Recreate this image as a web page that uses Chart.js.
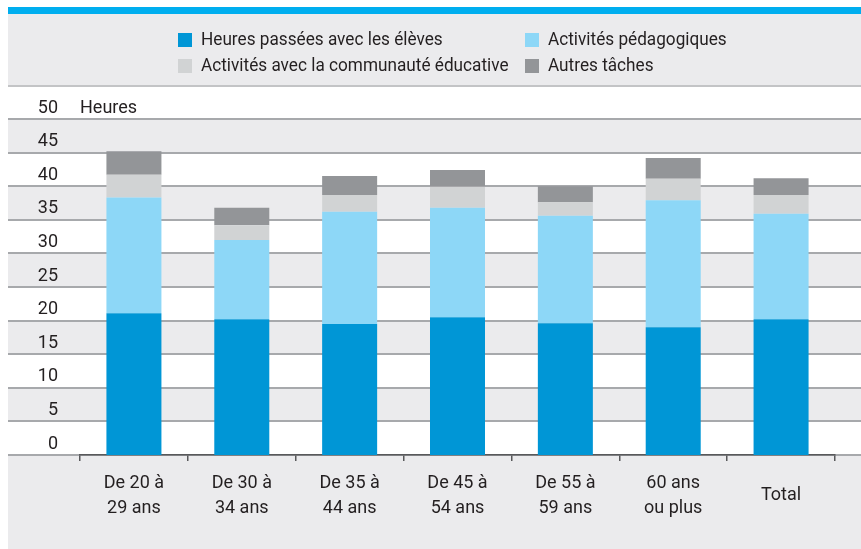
<!DOCTYPE html>
<html>
<head>
<meta charset="utf-8">
<script src="https://cdn.jsdelivr.net/npm/chart.js@4.4.1/dist/chart.umd.min.js"></script>
<style>
  html, body { margin: 0; padding: 0; background: #ffffff; }
  #wrap { width: 861px; height: 549px; position: relative; }
</style>
</head>
<body>
<div id="wrap"><canvas id="c" width="861" height="549"></canvas></div>
<script>
const categories = [
  ["De 20 à", "29 ans"],
  ["De 30 à", "34 ans"],
  ["De 35 à", "44 ans"],
  ["De 45 à", "54 ans"],
  ["De 55 à", "59 ans"],
  ["60 ans", "ou plus"],
  "Total"
];
const heuresEleves      = [21.1, 20.2, 19.5, 20.5, 19.6, 19.0, 20.2];
const activitesPedago   = [17.2, 11.8, 16.7, 16.3, 16.0, 18.9, 15.7];
const activitesCommun   = [3.4, 2.2, 2.5, 3.1, 2.0, 3.2, 2.8];
const autresTaches      = [3.5, 2.6, 2.8, 2.5, 2.4, 3.1, 2.5];
const seriesLabels = [
  "Heures passées avec les élèves",
  "Activités pédagogiques",
  "Activités avec la communauté éducative",
  "Autres tâches"
];
const yUnit = "Heures";
const yTicks = [0, 5, 10, 15, 20, 25, 30, 35, 40, 45, 50];

const FONT = "Roboto, 'Liberation Sans', sans-serif";
const TXT = "#231F20";
const colors = ["#0096D6", "#8DD7F7", "#D1D3D4", "#939598"];

const bgPlugin = {
  id: "bg",
  beforeDraw(chart) {
    const ctx = chart.ctx;
    const W = chart.width, H = chart.height;
    const y = chart.scales.y;
    const L = 8, R = W;
    ctx.save();
    ctx.fillStyle = "#ffffff";
    ctx.fillRect(0, 0, W, H);
    ctx.fillStyle = "#00AEEF";
    ctx.fillRect(L, 7, R - L, 7);
    ctx.fillStyle = "#EBEBED";
    ctx.fillRect(L, 14, R - L, 72);
    const y0 = y.getPixelForValue(0);
    ctx.fillRect(L, y0, R - L, H - y0);
    for (let i = 0; i < yTicks.length - 1; i++) {
      if ((i % 2) === 1) {
        const a = y.getPixelForValue(yTicks[i + 1]), b = y.getPixelForValue(yTicks[i]);
        ctx.fillRect(L, a, R - L, b - a);
      }
    }
    ctx.strokeStyle = "#A7A9AC";
    ctx.lineWidth = 2;
    yTicks.forEach(v => {
      const p = Math.round(y.getPixelForValue(v));
      ctx.beginPath();
      ctx.moveTo(L, p);
      ctx.lineTo(R, p);
      ctx.stroke();
    });
    ctx.strokeStyle = "#C3C4C6";
    ctx.beginPath();
    ctx.moveTo(L, 86);
    ctx.lineTo(R, 86);
    ctx.stroke();
    ctx.restore();
  },
  afterDraw(chart) {
    const ctx = chart.ctx;
    const y = chart.scales.y;
    ctx.save();
    ctx.font = "18px " + FONT;
    ctx.fillStyle = TXT;
    ctx.textBaseline = "middle";
    ctx.textAlign = "left";
    ctx.fillText(yUnit, chart.chartArea.left, y.getPixelForValue(50) - 11);
    const pos = [[178, 40], [525, 40], [178, 66], [525, 66]];
    const sx = 0.955;
    chart.data.datasets.forEach((ds, i) => {
      const [x, yy] = pos[i];
      ctx.fillStyle = ds.backgroundColor;
      ctx.fillRect(x, yy - 7, 14, 14);
      ctx.fillStyle = TXT;
      ctx.save();
      ctx.translate(x + 23, yy);
      ctx.scale(sx, 1);
      ctx.fillText(ds.label, 0, 0);
      ctx.restore();
    });
    ctx.restore();
  }
};

new Chart(document.getElementById("c"), {
  type: "bar",
  data: {
    labels: categories,
    datasets: [
      { label: seriesLabels[0], data: heuresEleves, backgroundColor: colors[0] },
      { label: seriesLabels[1], data: activitesPedago, backgroundColor: colors[1] },
      { label: seriesLabels[2], data: activitesCommun, backgroundColor: colors[2] },
      { label: seriesLabels[3], data: autresTaches, backgroundColor: colors[3] }
    ]
  },
  options: {
    responsive: false,
    animation: false,
    devicePixelRatio: 1,
    layout: { padding: { top: 119, right: 26, left: 0, bottom: 0 } },
    datasets: { bar: { categoryPercentage: 1, barPercentage: 0.51, borderWidth: 0 } },
    plugins: { legend: { display: false }, tooltip: { enabled: false } },
    scales: {
      x: {
        stacked: true,
        offset: true,
        grid: { display: true, drawOnChartArea: false, drawTicks: true, tickLength: 6, color: "#58595B", lineWidth: 1.5, offset: true },
        border: { display: true, color: "#58595B", width: 1.5 },
        ticks: { color: TXT, font: { family: FONT, size: 18, lineHeight: 1.42 }, padding: 22, crossAlign: "center", maxRotation: 0, autoSkip: false },
        afterFit(s) { s.height = 94; }
      },
      y: {
        stacked: true,
        min: 0, max: 50,
        grid: { display: false, drawTicks: false },
        border: { display: false },
        ticks: { stepSize: 5, color: TXT, font: { family: FONT, size: 18 }, padding: 22, labelOffset: -11 },
        afterFit(s) { s.width = 80; }
      }
    }
  },
  plugins: [bgPlugin]
});
</script>
</body>
</html>
